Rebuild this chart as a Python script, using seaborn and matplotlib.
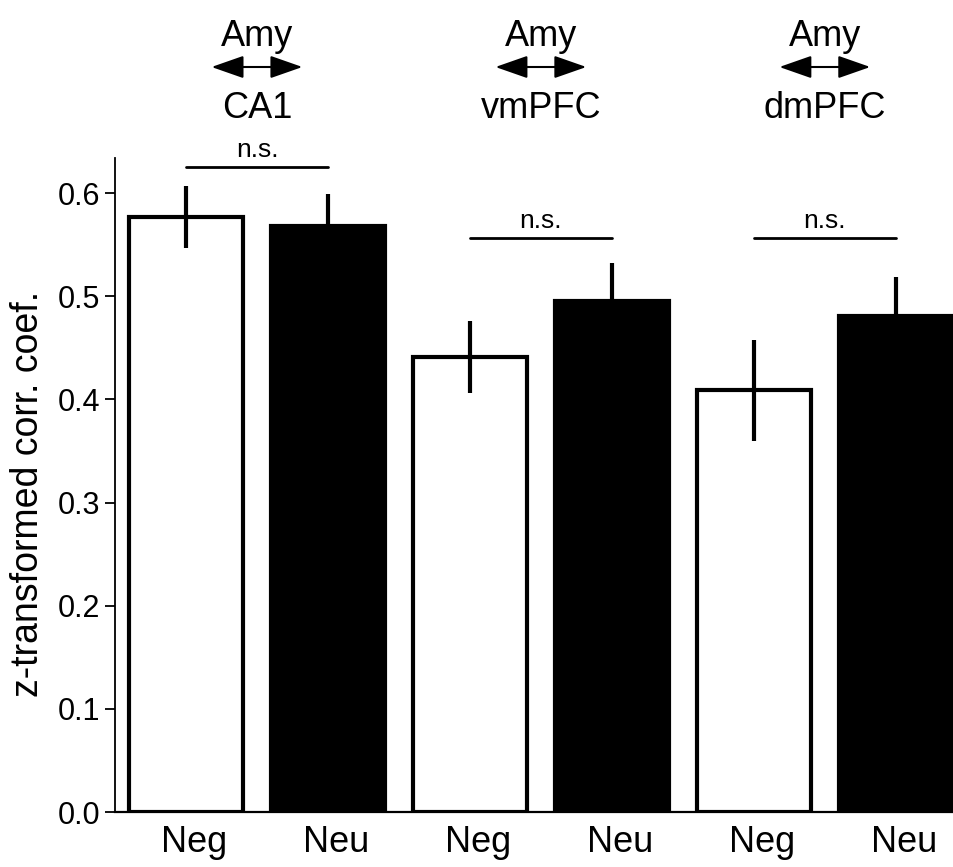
import pandas as pd
import matplotlib.pyplot as plt
import matplotlib.transforms as mtransforms
import seaborn as sns

sns.set_style("ticks")
plt.rcParams['font.family'] = ['Liberation Sans', 'DejaVu Sans']
plt.rcParams['text.color'] = 'black'
plt.rcParams['axes.labelcolor'] = 'black'
plt.rcParams['axes.edgecolor'] = 'black'
plt.rcParams['xtick.color'] = 'black'
plt.rcParams['ytick.color'] = 'black'

# dados
regioes = ["CA1", "vmPFC", "dmPFC"]
condicoes = ["Neg", "Neu"]
media_neg = [0.577, 0.441, 0.409]
erro_neg = [0.030, 0.035, 0.049]
media_neu = [0.568, 0.495, 0.481]
erro_neu = [0.031, 0.037, 0.038]
ns_altura = [0.625, 0.556, 0.556]

linhas = []
for i, reg in enumerate(regioes):
    linhas.append({"barra": f"{reg}-Neg", "condicao": "Neg", "valor": media_neg[i], "erro": erro_neg[i]})
    linhas.append({"barra": f"{reg}-Neu", "condicao": "Neu", "valor": media_neu[i], "erro": erro_neu[i]})
df = pd.DataFrame(linhas)

fig = plt.figure(figsize=(9.54, 8.67), dpi=100)
ax = fig.add_axes([115 / 954, 1 - 812 / 867, 839 / 954, (812 - 158) / 867])

sns.barplot(data=df, x="barra", y="valor", hue="condicao", order=list(df["barra"]),
            palette={"Neg": "white", "Neu": "black"}, dodge=False, width=0.8,
            edgecolor="black", linewidth=3, errorbar=None, legend=False, ax=ax)
ax.errorbar(range(len(df)), df["valor"], yerr=df["erro"], fmt="none",
            ecolor="black", elinewidth=3, capsize=0, zorder=5)

ax.set_xlim(-0.5, 5.41)
ax.set_ylim(0, 0.634)
ax.set_yticks([0.0, 0.1, 0.2, 0.3, 0.4, 0.5, 0.6])
ax.set_yticklabels([f"{v:.1f}" for v in [0.0, 0.1, 0.2, 0.3, 0.4, 0.5, 0.6]], fontsize=22)
ax.set_xticks(range(len(df)))
ax.set_xticklabels(list(df["condicao"]), fontsize=26)
ax.tick_params(axis="x", length=0, pad=9)
ax.tick_params(axis="y", length=7, width=1.3, pad=3.5)
# rótulos do eixo x um pouco à direita, como no original
desloc = mtransforms.ScaledTranslation(8 / 100, 0, fig.dpi_scale_trans)
for lbl in ax.get_xticklabels():
    lbl.set_transform(lbl.get_transform() + desloc)
ax.set_xlabel("")
ax.set_ylabel("z-transformed corr. coef.", fontsize=27)
ax.yaxis.set_label_coords(-0.082, 0.487)
sns.despine(ax=ax)
ax.spines["left"].set_linewidth(1.3)
ax.spines["bottom"].set_linewidth(1.6)

# n.s. e rótulos das conexões
for i, reg in enumerate(regioes):
    x0, x1 = 2 * i, 2 * i + 1
    ax.plot([x0, x1], [ns_altura[i], ns_altura[i]], color="black", lw=2, clip_on=False)
    ax.annotate("n.s.", xy=((x0 + x1) / 2, ns_altura[i]), xytext=(0, 4),
                textcoords="offset points", ha="center", va="bottom",
                fontsize=19, annotation_clip=False)
    xc = (x0 + x1) / 2
    ax.annotate("Amy", xy=(xc, 1 - 46 / 867), xycoords=("data", "figure fraction"),
                ha="center", va="baseline", fontsize=26, annotation_clip=False)
    ax.annotate(reg, xy=(xc, 1 - 118 / 867), xycoords=("data", "figure fraction"),
                ha="center", va="baseline", fontsize=26, annotation_clip=False)
    ax.annotate("", xy=(xc + 0.32, 1 - 67 / 867), xytext=(xc - 0.32, 1 - 67 / 867),
                xycoords=("data", "figure fraction"), textcoords=("data", "figure fraction"),
                arrowprops=dict(arrowstyle="<|-|>,head_length=2.0,head_width=0.7",
                                lw=1.5, color="black", shrinkA=0, shrinkB=0),
                annotation_clip=False)

fig.savefig("out.png", dpi=100)
